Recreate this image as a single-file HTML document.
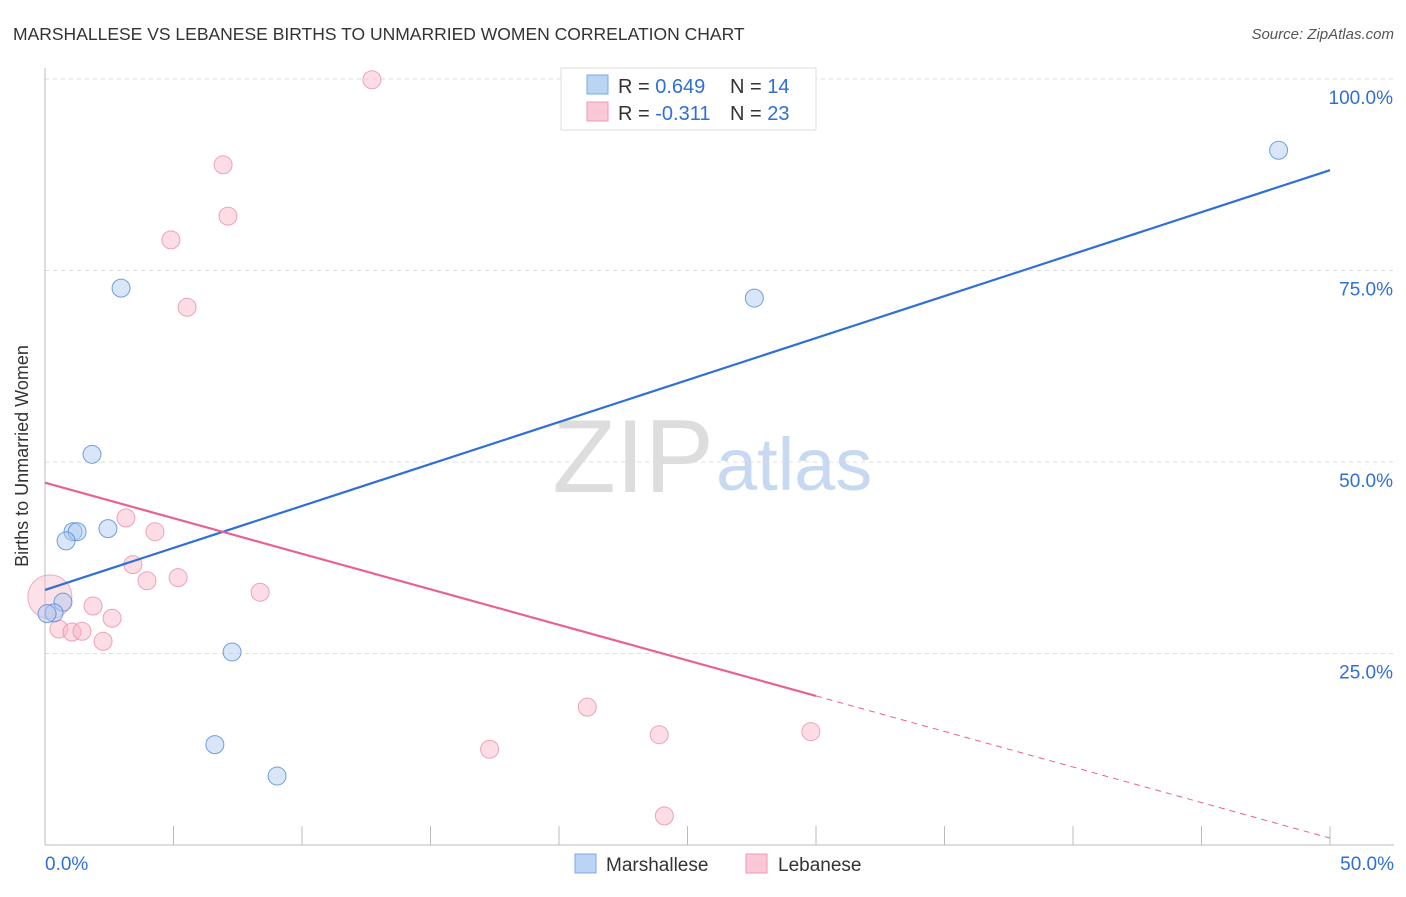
<!DOCTYPE html>
<html><head><meta charset="utf-8">
<style>
body{margin:0;background:#fff;font-family:"Liberation Sans",sans-serif;}
svg text{font-family:"Liberation Sans",sans-serif;}
</style></head>
<body>
<svg id="chart" width="1406" height="892" viewBox="0 0 1406 892">
<text x="13" y="40" font-size="17.5" fill="#333">MARSHALLESE VS LEBANESE BIRTHS TO UNMARRIED WOMEN CORRELATION CHART</text>
<text x="1394" y="39" font-size="15" fill="#555" text-anchor="end" font-style="italic">Source: ZipAtlas.com</text>
<text x="28" y="456" font-size="18" fill="#333" text-anchor="middle" transform="rotate(-90 28 456)">Births to Unmarried Women</text>
<text x="714" y="492" font-size="104" fill="#ddd" text-anchor="end" font-family="Liberation Serif">ZIP</text>
<text x="716" y="490" font-size="74" fill="#c7d9f0">atlas</text>
<g id="grid"></g>
<g id="marks"></g>
<g>
<rect x="561" y="68" width="255" height="62" fill="#fff" stroke="#ddd"/>
<rect x="587" y="75" width="21" height="19" fill="#b9d4f5" stroke="#7fa8e0"/>
<text x="618" y="93" font-size="20" fill="#333">R = <tspan fill="#2f6fd6">0.649</tspan><tspan x="730">N = </tspan><tspan fill="#2f6fd6">14</tspan></text>
<rect x="587" y="102" width="21" height="19" fill="#fbc9d6" stroke="#eb9ab0"/>
<text x="618" y="120" font-size="20" fill="#333">R = <tspan fill="#2f6fd6">-0.311</tspan><tspan x="730">N = </tspan><tspan fill="#2f6fd6">23</tspan></text>
</g>
<g>
<rect x="575" y="854" width="21" height="19" fill="#b9d4f5" stroke="#7fa8e0"/>
<text x="606" y="871" font-size="19" fill="#333">Marshallese</text>
<rect x="746" y="854" width="21" height="19" fill="#fbc9d6" stroke="#eb9ab0"/>
<text x="778" y="871" font-size="19" fill="#333">Lebanese</text>
</g>
</svg>
<script>
const yTicks=[25,50,75,100];
const xTickLabels=["0.0%","50.0%"];
const blueX=[48.0,2.96,27.6,1.83,1.09,1.25,2.45,0.82,0.70,0.35,0.08,7.28,6.61,9.03];
const blueY=[90.7,72.7,71.4,51.0,40.9,40.9,41.3,39.7,31.7,30.3,30.2,25.2,13.1,9.0];
const pinkX=[12.72,6.93,7.12,4.90,5.53,3.15,4.28,3.42,5.18,3.97,8.37,1.87,2.61,0.54,1.05,1.44,2.26,21.1,17.3,23.9,29.8,24.1];
const pinkY=[99.9,88.8,82.1,79.0,70.2,42.7,40.9,36.6,34.9,34.5,33.0,31.2,29.6,28.2,27.8,27.9,26.6,18.0,12.5,14.4,14.8,3.8];
const pinkBig=[0.19,32.4];
const blueLine=[33.3,88.1];
const pinkLine=[47.3,0.9];
const pinkSolidEnd=30.0;
const X=v=>45+v*25.7, Y=v=>845-v*7.66;
const NS="http://www.w3.org/2000/svg";
const grid=document.getElementById('grid'), marks=document.getElementById('marks');
function mk(tag,attrs,parent){const e=document.createElementNS(NS,tag);for(const k in attrs)e.setAttribute(k,attrs[k]);parent.appendChild(e);return e;}
yTicks.forEach(t=>{
 const l=mk('line',{x1:45,x2:1394,y1:Y(t),y2:Y(t),stroke:'#ddd','stroke-dasharray':'4,4'},grid);
 
 
 const tx=mk('text',{x:1393,y:Y(t)+25,'font-size':19,fill:'#2f6fd6','text-anchor':'end'},grid);
 tx.textContent=t.toFixed(1)+'%';
 
 
});
const ax=mk('line',{x1:45,x2:45,y1:68,y2:845,stroke:'#bbb'},grid);


const bx=mk('line',{x1:45,x2:1394,y1:845,y2:845,stroke:'#bbb'},grid);


for(let i=0;i<=10;i++){
 const t=mk('line',{x1:X(i*5),x2:X(i*5),y1:826,y2:845,stroke:'#bbb'},grid);
 
 
}
[[0,'start',45],[50,'end',1394]].forEach((d,i)=>{
 const tx=mk('text',{x:d[2],y:870,'font-size':19,fill:'#2f6fd6','text-anchor':d[1]},grid);
 tx.textContent=xTickLabels[i];
 
 
});
const bc=mk('circle',{cx:X(pinkBig[0]),cy:Y(pinkBig[1]),r:22,fill:'rgba(248,180,200,0.4)',stroke:'rgba(232,130,160,0.6)'},marks);


pinkX.forEach((x,i)=>{
 const c=mk('circle',{cx:X(x),cy:Y(pinkY[i]),r:9,fill:'rgba(248,180,200,0.45)',stroke:'rgba(232,130,160,0.7)'},marks);
 
 
});
blueX.forEach((x,i)=>{
 const c=mk('circle',{cx:X(x),cy:Y(blueY[i]),r:9,fill:'rgba(170,200,240,0.45)',stroke:'rgba(70,130,215,0.75)'},marks);
 
 
});
const pv=x=>pinkLine[0]+(pinkLine[1]-pinkLine[0])*x/50;
const l1=mk('line',{x1:X(0),y1:Y(blueLine[0]),x2:X(50),y2:Y(blueLine[1]),stroke:'#2f6fd6','stroke-width':2.2},marks);


const l2=mk('line',{x1:X(0),y1:Y(pv(0)),x2:X(pinkSolidEnd),y2:Y(pv(pinkSolidEnd)),stroke:'#e8628d','stroke-width':2.2},marks);


const l3=mk('line',{x1:X(pinkSolidEnd),y1:Y(pv(pinkSolidEnd)),x2:X(50),y2:Y(pv(50)),stroke:'#e8628d','stroke-width':1,'stroke-dasharray':'6,5'},marks);


</script>
</body></html>
